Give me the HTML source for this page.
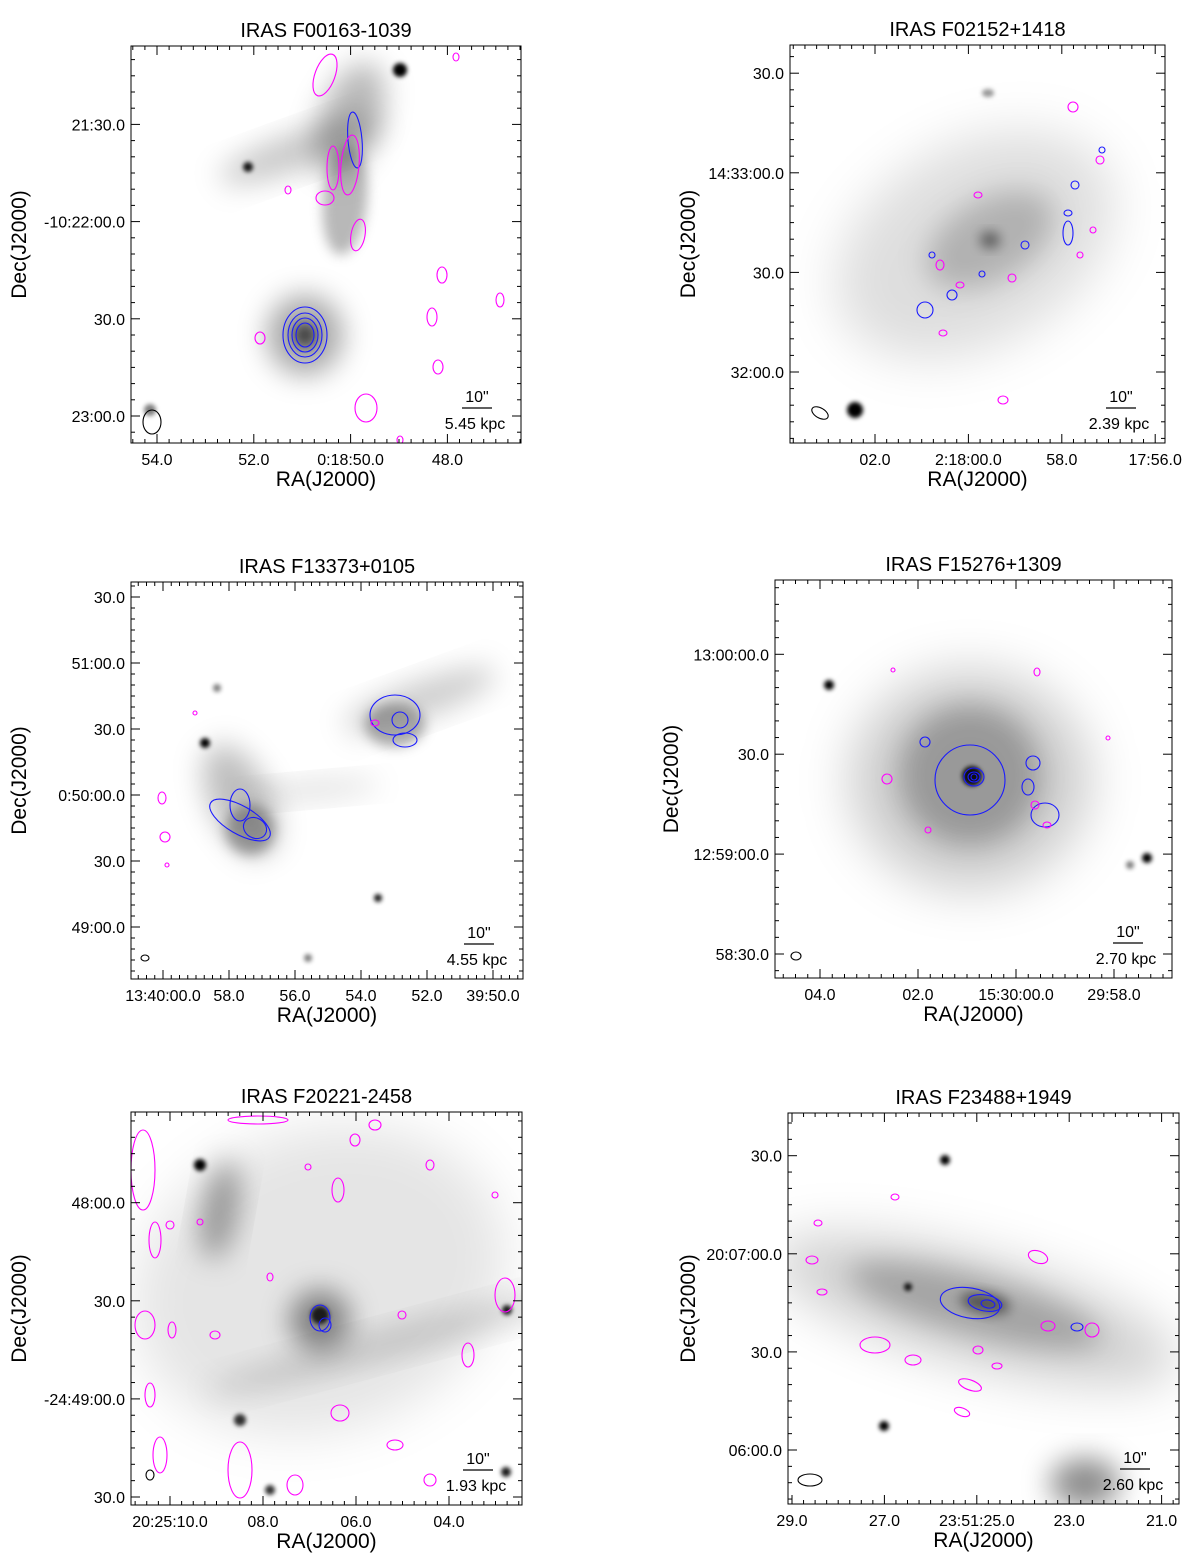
<!DOCTYPE html>
<html><head><meta charset="utf-8">
<style>
html,body{margin:0;padding:0;background:#fff;}
svg{display:block;font-family:"Liberation Sans",Arial,sans-serif;}
</style></head>
<body>
<svg id="fig" width="1200" height="1563" viewBox="0 0 1200 1563" xmlns="http://www.w3.org/2000/svg">
<defs>
<filter id="b2" x="-50%" y="-50%" width="200%" height="200%"><feGaussianBlur stdDeviation="2"/></filter>
<filter id="b6" x="-50%" y="-50%" width="200%" height="200%"><feGaussianBlur stdDeviation="6"/></filter>
<filter id="b14" x="-50%" y="-50%" width="200%" height="200%"><feGaussianBlur stdDeviation="14"/></filter>
<filter id="b25" x="-50%" y="-50%" width="200%" height="200%"><feGaussianBlur stdDeviation="25"/></filter>
</defs>
</svg>
<script>
// ---- tick data per panel ----
const titles = ["IRAS F00163-1039","IRAS F02152+1418","IRAS F13373+0105","IRAS F15276+1309","IRAS F20221-2458","IRAS F23488+1949"];
const kpcLabels = ["5.45 kpc","2.39 kpc","4.55 kpc","2.70 kpc","1.93 kpc","2.60 kpc"];
const xTickLabels = [
 ["54.0","52.0","0:18:50.0","48.0"],
 ["02.0","2:18:00.0","58.0","17:56.0"],
 ["13:40:00.0","58.0","56.0","54.0","52.0","39:50.0"],
 ["04.0","02.0","15:30:00.0","29:58.0"],
 ["20:25:10.0","08.0","06.0","04.0"],
 ["29.0","27.0","23:51:25.0","23.0","21.0"]];
const xTickValues = [[54,52,50,48],[62,60,58,56],[60,58,56,54,52,50],[64,62,60,58],[70,68,66,64],[29,27,25,23,21]];
const yTickLabels = [
 ["21:30.0","-10:22:00.0","30.0","23:00.0"],
 ["30.0","14:33:00.0","30.0","32:00.0"],
 ["30.0","51:00.0","30.0","0:50:00.0","30.0","49:00.0"],
 ["13:00:00.0","30.0","12:59:00.0","58:30.0"],
 ["48:00.0","30.0","-24:49:00.0","30.0"],
 ["30.0","20:07:00.0","30.0","06:00.0"]];
const yTickValues = [[90,60,30,0],[90,60,30,0],[150,120,90,60,30,0],[90,60,30,0],[90,60,30,0],[90,60,30,0]];

// layout (not data)
const boxes = [[131,46,521,443],[790,45,1165,443],[131,582,523,979],[775,580,1172,978],[131,1112,522,1505],[788,1113,1179,1504]];
const xMaps = [[54,157,-48.4],[62,875,-46.7],[60,163,-33],[64,820,-49],[70,170,-46.5],[29,792,-46.2]];
const yMaps = [[0,416,-3.24],[0,372,-3.32],[0,927,-2.2],[0,954,-3.33],[0,1497,-3.27],[0,1450,-3.27]];

const NS="http://www.w3.org/2000/svg";
const svg=document.getElementById('fig');
function mk(tag,attrs,parent){const e=document.createElementNS(NS,tag);for(const k in attrs)e.setAttribute(k,attrs[k]);(parent||svg).appendChild(e);return e;}

// galaxy images: [cx,cy,rx,ry,rot,opacity,blurId]
const galaxies=[
 [[300,150,85,18,-20,0.22,'b14'],[350,120,30,60,20,0.28,'b14'],[345,200,22,55,5,0.28,'b6'],[305,335,38,40,0,0.35,'b14'],[305,335,12,12,0,0.6,'b6'],[400,70,7,7,0,1,'b2'],[248,167,5,5,0,0.9,'b2'],[150,410,6,6,0,0.5,'b2']],
 [[975,245,150,100,-30,0.13,'b25'],[990,240,70,40,-30,0.2,'b14'],[990,240,10,8,0,0.5,'b6'],[855,410,8,8,0,1,'b2'],[988,93,6,4,0,0.4,'b2']],
 [[240,800,30,60,-25,0.25,'b14'],[250,830,25,25,0,0.3,'b6'],[420,700,80,18,-20,0.2,'b14'],[395,725,30,22,0,0.3,'b6'],[310,790,70,10,-5,0.12,'b14'],[205,743,5,5,0,1,'b2'],[378,898,4,4,0,0.9,'b2'],[217,688,4,4,0,0.5,'b2'],[308,958,4,4,0,0.5,'b2']],
 [[970,780,120,110,0,0.2,'b25'],[970,775,70,70,0,0.25,'b14'],[972,776,10,10,0,0.9,'b2'],[829,685,5,5,0,1,'b2'],[1147,858,5,5,0,1,'b2'],[1130,865,4,4,0,0.5,'b2']],
 [[320,1280,190,150,-20,0.1,'b25'],[220,1210,18,50,10,0.35,'b14'],[320,1320,30,30,0,0.45,'b14'],[320,1315,9,9,0,0.8,'b2'],[200,1165,6,6,0,1,'b2'],[240,1420,6,6,0,0.8,'b2'],[507,1310,5,5,0,0.9,'b2'],[506,1472,5,5,0,0.9,'b2'],[270,1490,5,5,0,0.8,'b2'],[400,1340,200,15,-15,0.15,'b14']],
 [[975,1310,210,55,15,0.18,'b25'],[975,1305,130,30,15,0.22,'b14'],[985,1303,25,10,10,0.5,'b6'],[945,1160,5,5,0,1,'b2'],[884,1426,5,5,0,1,'b2'],[908,1287,4,4,0,0.9,'b2'],[1085,1483,35,25,0,0.45,'b14']]];

// contours: [cx,cy,rx,ry,rot,color]
const M='#ff00ff',B='#1a1aff';
const contours=[
 [[325,75,10,22,20,M],[355,140,7,28,-5,B],[350,165,9,30,5,M],[333,168,6,22,0,M],[325,198,9,7,0,M],[358,235,7,16,10,M],[288,190,3,4,0,M],[305,335,22,28,0,B],[305,335,17,22,0,B],[305,335,13,17,0,B],[305,335,9,12,0,B],[260,338,5,6,0,M],[432,317,5,9,0,M],[442,275,5,8,0,M],[500,300,4,7,0,M],[438,367,5,7,0,M],[366,408,11,14,0,M],[152,422,9,12,0,'#000'],[400,440,3,4,0,M],[456,57,3,4,0,M]],
 [[1073,107,5,5,0,M],[1100,160,4,4,0,M],[1102,150,3,3,0,B],[1075,185,4,4,0,B],[1068,213,4,3,0,B],[1068,233,5,12,0,B],[1025,245,4,4,0,B],[1093,230,3,3,0,M],[1080,255,3,3,0,M],[925,310,8,8,0,B],[952,295,5,5,0,B],[940,265,4,5,0,M],[960,285,4,3,0,M],[932,255,3,3,0,B],[1012,278,4,4,0,M],[982,274,3,3,0,B],[978,195,4,3,0,M],[1003,400,5,4,0,M],[943,333,4,3,0,M],[820,413,9,5,30,'#000']],
 [[240,805,10,16,0,B],[240,820,34,14,30,B],[255,828,12,10,30,B],[395,715,25,20,0,B],[405,740,12,7,0,B],[400,720,8,8,0,B],[162,798,4,6,0,M],[165,837,5,5,0,M],[375,723,4,3,0,M],[195,713,2,2,0,M],[145,958,4,3,0,'#000'],[167,865,2,2,0,M]],
 [[970,780,35,35,0,B],[974,777,10,9,0,B],[974,777,6,5,0,B],[974,777,3,3,0,B],[925,742,5,5,0,B],[1033,763,7,7,0,B],[1045,815,14,12,0,B],[1035,805,4,4,0,M],[887,779,5,5,0,M],[1028,787,6,8,0,B],[1037,672,3,4,0,M],[1108,738,2,2,0,M],[893,670,2,2,0,M],[928,830,3,3,0,M],[796,956,5,4,0,'#000'],[1047,825,4,3,0,M]],
 [[143,1170,12,40,0,M],[155,1240,6,18,0,M],[145,1325,10,14,0,M],[172,1330,4,8,0,M],[150,1395,5,12,0,M],[160,1455,7,18,0,M],[240,1470,12,28,0,M],[295,1485,8,10,0,M],[320,1318,10,13,0,B],[325,1325,6,7,0,B],[258,1120,30,4,0,M],[355,1140,5,6,0,M],[375,1125,6,5,0,M],[338,1190,6,12,0,M],[308,1167,3,3,0,M],[270,1277,3,4,0,M],[215,1335,5,4,0,M],[340,1413,9,8,0,M],[402,1315,4,4,0,M],[468,1355,6,12,0,M],[505,1295,10,17,0,M],[430,1165,4,5,0,M],[495,1195,3,3,0,M],[170,1225,4,4,0,M],[150,1475,4,5,0,'#000'],[200,1222,3,3,0,M],[395,1445,8,5,0,M],[430,1480,6,6,0,M]],
 [[970,1303,30,15,10,B],[985,1303,17,8,10,B],[988,1304,7,4,10,B],[1077,1327,6,4,0,B],[1048,1326,7,5,0,M],[1092,1330,7,7,0,M],[1038,1257,10,6,20,M],[875,1345,15,8,0,M],[913,1360,8,5,0,M],[970,1385,12,5,20,M],[962,1412,8,4,20,M],[978,1350,5,4,0,M],[895,1197,4,3,0,M],[818,1223,4,3,0,M],[812,1260,6,4,0,M],[822,1292,5,3,0,M],[810,1480,12,6,0,'#000'],[997,1366,5,3,0,M]]];

for(let p=0;p<6;p++){
  const [x0,y0,x1,y1]=boxes[p];
  const g=mk('g',{});
  
  
  const clip=mk('clipPath',{id:'c'+p},svg);mk('rect',{x:x0,y:y0,width:x1-x0,height:y1-y0},clip);
  const img=mk('g',{'clip-path':'url(#c'+p+')'},g);
  
  
  galaxies[p].forEach(s=>{mk('ellipse',{cx:s[0],cy:s[1],rx:s[2],ry:s[3],transform:`rotate(${s[4]} ${s[0]} ${s[1]})`,fill:'#000','fill-opacity':s[5],filter:`url(#${s[6]})`},img);});
  contours[p].forEach(c=>{const e=mk('ellipse',{cx:c[0],cy:c[1],rx:c[2],ry:c[3],transform:`rotate(${c[4]} ${c[0]} ${c[1]})`,fill:'none',stroke:c[5],'stroke-width':1.1},img);
    
    });
  const fr=mk('rect',{x:x0,y:y0,width:x1-x0,height:y1-y0,fill:'none',stroke:'#000','stroke-width':1},g);
  
  
  const xm=xMaps[p],ym=yMaps[p];
  const xs=v=>xm[1]+(v-xm[0])*xm[2];
  const ys=v=>ym[1]+(v-ym[0])*ym[2];
  const xv=xTickValues[p],yv=yTickValues[p];
  const xstep=Math.abs(xv[1]-xv[0])/8, ystep=Math.abs(yv[1]-yv[0])/6;
  const tk=mk('g',{stroke:'#000','stroke-width':1},g);
  for(let v=xv[0]+20*xstep;v>xv[0]-80*xstep;v-=xstep){const X=xs(v);if(X<=x0+0.5||X>=x1-0.5)continue;
    const isMaj=xv.some(t=>Math.abs(t-v)<1e-6);const L=isMaj?9:4;
    mk('line',{x1:X,y1:y1,x2:X,y2:y1-L},tk);mk('line',{x1:X,y1:y0,x2:X,y2:y0+L},tk);}
  for(let v=yv[0]+20*ystep;v>yv[0]-80*ystep;v-=ystep){const Y=ys(v);if(Y<=y0+0.5||Y>=y1-0.5)continue;
    const isMaj=yv.some(t=>Math.abs(t-v)<1e-6);const L=isMaj?9:4;
    mk('line',{x1:x0,y1:Y,x2:x0+L,y2:Y},tk);mk('line',{x1:x1,y1:Y,x2:x1-L,y2:Y},tk);}
  xTickLabels[p].forEach((l,i)=>{const t=mk('text',{x:xs(xv[i]),y:y1+22,'text-anchor':'middle','font-size':16},g);t.textContent=l;
    });
  yTickLabels[p].forEach((l,i)=>{const t=mk('text',{x:x0-6,y:ys(yv[i])+6,'text-anchor':'end','font-size':16},g);t.textContent=l;
    });
  const cx=(x0+x1)/2;
  const ti=mk('text',{x:cx,y:y0-9,'text-anchor':'middle','font-size':20},g);ti.textContent=titles[p];
  
  const xl=mk('text',{x:cx,y:y1+43,'text-anchor':'middle','font-size':21},g);xl.textContent='RA(J2000)';
  
  const yl=mk('text',{x:0,y:0,'text-anchor':'middle','font-size':21,transform:`translate(${p%2===0?26:(p===3?678:695)} ${(y0+y1)/2}) rotate(-90)`},g);yl.textContent='Dec(J2000)';
  
  const sb=mk('g',{},g);
  const sx=x1-44;
  const t1=mk('text',{x:sx,y:y1-41,'text-anchor':'middle','font-size':16},sb);t1.textContent='10"';
  mk('line',{x1:sx-15,y1:y1-35,x2:sx+15,y2:y1-35,stroke:'#000','stroke-width':1.2},sb);
  const t2=mk('text',{x:sx-2,y:y1-14,'text-anchor':'middle','font-size':16},sb);t2.textContent=kpcLabels[p];
}
</script>
</body></html>
